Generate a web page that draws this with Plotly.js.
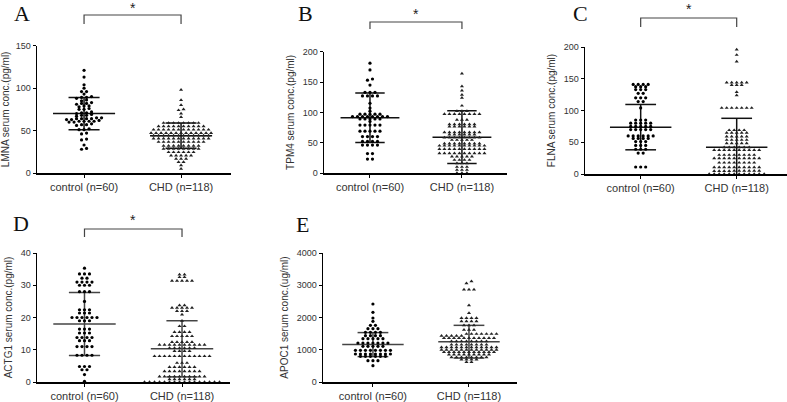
<!DOCTYPE html>
<html>
<head>
<meta charset="utf-8">
<script src="https://cdn.plot.ly/plotly-3.0.1.min.js"></script>
<style>html,body{margin:0;padding:0;background:#fff;}#chart{width:787px;height:402px;}</style>
</head>
<body>
<div id="chart"></div>
<script>
// ---------- DATA ----------
const categories = ['control (n=60)', 'CHD (n=118)'];
const panelLetters = ['A', 'B', 'C', 'D', 'E'];
const yTitles = ['LMNA serum conc.(pg/ml)', 'TPM4 serum conc.(pg/ml)', 'FLNA serum conc.(pg/ml)',
                 'ACTG1 serum conc.(pg/ml)', 'APOC1 serum conc.(ug/ml)'];

const lmnaControl = [121,113,104,100,96,96,93,89,89,90,88,85,86,82,82,83,81,79,79,78,75,75,76,71,71,72,70,68,68,67,69,
  64,64,65,64,63,64,65,63,61,61,62,60,61,60,61,57,57,56,58,51,51,52,47,46,39,40,33,28,29];
const lmnaCHD = [98,86,80,75,74,70,66,
  59,59,59,59,59,59,59,59,
  55,55,55,55,55,55,55,55,55,55,
  51,51,51,51,51,51,51,51,51,51,51,51,
  47,47,47,47,47,47,47,47,47,47,47,47,47,
  44,44,44,44,44,44,44,44,44,44,44,44,
  40.5,40.5,40.5,40.5,40.5,40.5,40.5,40.5,40.5,40.5,40.5,40.5,
  36.6,36.6,36.6,36.6,36.6,36.6,36.6,36.6,36.6,36.6,
  32,32,32,32,32,32,32,32,
  28.5,28.5,28.5,28.5,28.5,28.5,28.5,28.5,
  24.5,24.5,24.5,24.5,24.5,24.5,
  20.6,20.6,20.6,20.6,20.6,
  16.7,16.7,16.7,12.8,12.8,9,5];

const tpm4Control = [181,170,155,153,145,133,133,133,127,127,127,127,115,107,102,
  97,97,97,97,97,93,93,93,93,93,93,93,93,89,89,89,89,89,85,
  79,79,79,79,79,69,69,69,69,69,60,60,60,60,52,52,52,52,46,46,46,46,32,32,23,23];
const tpm4CHD = [164,143,136,129,124,111,102,102,102,
  97,97,97,97,97,97,97,97,87.6,87.6,87.6,
  80.4,80.4,80.4,80.4,80.4,80.4,76.5,76.5,76.5,76.5,76.5,76.5,
  67,67,67,67,67,67,67,67,63.5,63.5,63.5,63.5,63.5,63.5,
  58.5,58.5,58.5,58.5,58.5,58.5,58.5,58.5,54.5,54.5,54.5,54.5,54.5,
  48.5,48.5,48.5,48.5,48.5,48.5,48.5,48.5,45,45,45,45,45,45,45,45,45,45,
  39.5,39.5,39.5,39.5,39.5,39.5,39.5,39.5,39.5,39.5,
  32.6,32.6,32.6,32.6,32.6,32.6,32.6,32.6,32.6,32.6,
  27,27,27,27,27,21.5,21.5,21.5,21.5,16,16,16,10,10,10,5,5,5,0,0,0];

const flnaControl = [141,141,141,141,137.5,137.5,137.5,133,133,133,127,127,120,120,120,114,114,104,
  85,85,85,80,80,80,80,80,75,75,75,75,75,70,70,70,70,70,
  60,60,60,60,60,60,56,56,56,56,51,51,51,45,45,45,39,39,39,33,33,11,11,11];
const flnaCHD = [196,187.5,177,144,144,144,144,144,140,140,140,129,124,
  104,104,104,104,104,104,104,69,69,69,69,65,65,65,65,65,
  59,59,59,59,59,53.6,53.6,53.6,53.6,53.6,48.4,48.4,48.4,48.4,48.4,42,42,42,42,42,42,
  37.8,37.8,37.8,37.8,37.8,37.8,37.8,37.8,37.8,37.8,30,30,30,30,30,30,30,30,
  24.7,24.7,24.7,24.7,24.7,24.7,24.7,24.7,24.7,24.7,17.8,17.8,17.8,17.8,17.8,17.8,17.8,17.8,
  10.5,10.5,10.5,10.5,10.5,10.5,10.5,10.5,10.5,10.5,4.7,4.7,4.7,4.7,
  5,5,5,5,5,5,0,0,0,0,0,0,0,0,0,0,0,0];

const actg1Control = [35.3,33.5,33.5,33.5,32.2,32.2,31,31,31,31,30,30,30,28,28,28,25,
  22.4,22.4,22.4,21.4,21.4,21.4,20,20,20,20,20,20,19,19,19,16.4,16.4,16.4,15.2,15.2,15.2,
  13.8,13.8,13.8,13.8,12.8,12.8,12.8,11,11,11,11,8.3,8.3,8.3,8.3,4.8,4.8,4.8,3.8,3.8,2.3,0.2];
const actg1CHD = [33.3,33.3,32.5,32.5,31.4,31.4,31.4,31.4,31.4,23.8,23.8,23,23,23,23,23,22,22,22,20.9,19,
  17.3,17.3,15.5,15.5,15.5,15.5,14.2,14.2,14.2,14.2,14.2,12.4,12.4,12.4,12.4,12.4,
  11.5,11.5,11.5,11.5,11.5,11.5,11.5,11.5,11.5,11.5,10.5,10.5,10.5,10.5,10.5,10.5,9.6,9.6,9.6,9.6,
  8,8,8,8,8,8,8,8,8,8,8,8,5.9,5.9,5.9,4.6,4.6,4.6,4.6,4.6,4.6,
  3.3,3.3,3.3,3.3,3.3,3.3,3.3,3.3,1.7,1.7,1.7,1.7,1.7,1.7,1.7,1.7,1.7,1.7,
  0.8,0.8,0.8,0.8,0.8,0.8,0,0,0,0,0,0,0,0,0,0,0,0,0,0,0,0];

const apoc1Control = [2419,2160,1985,1880,1757,1757,1654,1654,1654,1540,1540,1540,1540,
  1437,1437,1437,1437,1343,1343,1343,1343,1343,1210,1210,1210,1210,1210,1210,1210,
  1106,1106,1106,1106,1106,982,982,982,982,982,982,982,982,868,868,868,868,868,868,868,868,
  796,796,796,796,796,796,660,660,660,506];
const apoc1CHD = [3120,3060,2864,2864,2864,2377,2140,1985,1985,1985,1985,1880,1880,1880,1880,
  1760,1760,1760,1620,1620,1620,1490,1490,1490,1490,1490,1490,1490,1430,1430,1430,1430,1430,
  1364,1364,1364,1364,1364,1364,1364,1364,1364,1364,1364,1260,1260,1260,1260,1260,1260,1260,1260,
  1157,1157,1157,1157,1157,1157,1157,1157,1075,1075,1075,1075,1075,1075,1075,1075,1075,1075,1075,1075,
  1000,1000,1000,1000,1000,1000,1000,1000,1000,1000,1000,1000,930,930,930,930,930,930,930,930,930,930,930,
  848,848,848,848,848,848,848,848,848,766,766,766,766,766,766,766,766,693,693,693,693,620,620];

const lmnaMean = [70, 44],     lmnaSD = [19, 14.8];
const tpm4Mean = [91, 59],     tpm4SD = [40.7, 43.5];
const flnaMean = [73.8, 42],   flnaSD = [35.7, 45.7];
const actg1Mean = [18, 10.3],  actg1SD = [9.75, 8.7];
const apoc1Mean = [1160, 1250], apoc1SD = [372, 507];

const yMax = [150, 200, 200, 40, 4000];
const yStep = [50, 50, 50, 10, 1000];
const significant = [true, true, true, true, false];

// ---------- LAYOUT GEOMETRY (pixels) ----------
const W = 787, H = 402;
const boxes = [ // left, right, top, bottom (plot area), x range
  {l: 37, r: 231, t: 45.7, b: 173, xr: [-0.485, 1.515], br: [15, 24], star: 8, let: [12, 14], lc: '#111'},
  {l: 324, r: 507, t: 51.7, b: 173, xr: [-0.5, 1.49], br: [22, 29], star: 14, let: [296, 14], lc: '#111'},
  {l: 585, r: 787, t: 47, b: 174, xr: [-0.58, 1.524], br: [18, 27], star: 8.5, let: [571, 13.5], lc: '#111'},
  {l: 37, r: 230, t: 253, b: 382, xr: [-0.487, 1.492], br: [229, 237], star: 220, let: [11, 223], lc: '#444'},
  {l: 323, r: 517, t: 253, b: 382, xr: [-0.52, 1.5], br: null, star: null, let: [294, 225], lc: '#444'}
];
const px = x => x / W, py = y => 1 - y / H;

const groups = [
  [lmnaControl, lmnaCHD, lmnaMean, lmnaSD],
  [tpm4Control, tpm4CHD, tpm4Mean, tpm4SD],
  [flnaControl, flnaCHD, flnaMean, flnaSD],
  [actg1Control, actg1CHD, actg1Mean, actg1SD],
  [apoc1Control, apoc1CHD, apoc1Mean, apoc1SD]
];

// Prism-like scatter rows: values closer than a row height share a row, spread horizontally
function swarm(values, cat, pxPerX, pxPerY) {
  const dX = 5.0, rowPx = 2.0;
  const sorted = values.slice().sort((a, b) => a - b);
  const rows = [];
  let cur = null;
  for (const v of sorted) {
    const yp = v * pxPerY;
    if (!cur || yp - cur.start >= rowPx) { cur = {start: yp, vals: []}; rows.push(cur); }
    cur.vals.push(v);
  }
  const xs = [], ys = [];
  rows.forEach(r => {
    const n = r.vals.length;
    r.vals.forEach((v, j) => {
      const off = (j - (n - 1) / 2) * dX;
      xs.push(cat + off / pxPerX);
      ys.push(v);
    });
  });
  return {x: xs, y: ys};
}

const traces = [];
const layout = {
  width: W, height: H, margin: {l: 0, r: 0, t: 0, b: 0},
  paper_bgcolor: '#fff', plot_bgcolor: '#fff', showlegend: false,
  font: {family: 'Liberation Sans, Arial, sans-serif', color: '#333'},
  shapes: [], annotations: []
};

boxes.forEach((b, i) => {
  const sfx = i === 0 ? '' : String(i + 1);
  const xa = 'x' + sfx, ya = 'y' + sfx;
  const pxPerX = (b.r - b.l) / (b.xr[1] - b.xr[0]);
  const pxPerY = (b.b - b.t) / yMax[i];
  const [ctrl, chd, mean, sd] = groups[i];

  const s0 = swarm(ctrl, 0, pxPerX, pxPerY);
  const s1 = swarm(chd, 1, pxPerX, pxPerY);

  // mean and SD lines
  const lx = [], ly = [];
  [0, 1].forEach(c => {
    const m = mean[c], s = sd[c];
    lx.push(c - 0.32, c + 0.32, null); ly.push(m, m, null);
    lx.push(c - 0.16, c + 0.16, null); ly.push(m + s, m + s, null);
    lx.push(c - 0.16, c + 0.16, null); ly.push(m - s, m - s, null);
    lx.push(c, c, null); ly.push(m - s, m + s, null);
  });
  traces.push({type: 'scatter', mode: 'lines', x: lx, y: ly, xaxis: xa, yaxis: ya,
    hoverinfo: 'skip', line: {color: b.lc, width: 1.5}});

  traces.push({type: 'scatter', mode: 'markers', x: s0.x, y: s0.y, xaxis: xa, yaxis: ya,
    name: categories[0], cliponaxis: false, hoverinfo: 'y',
    marker: {symbol: 'circle', size: 3.2, color: '#000'}});
  traces.push({type: 'scatter', mode: 'markers', x: s1.x, y: s1.y, xaxis: xa, yaxis: ya,
    name: categories[1], cliponaxis: false, hoverinfo: 'y',
    marker: {symbol: 'triangle-up', size: 3.6, color: '#222'}});

  layout['xaxis' + sfx] = {
    domain: [px(b.l), px(b.r)], range: b.xr, anchor: ya, fixedrange: true,
    tickvals: [0, 1], ticktext: categories, ticks: 'outside', ticklen: 3, tickwidth: 1,
    tickcolor: '#000', showline: true, linecolor: '#000', linewidth: 1.5,
    showgrid: false, zeroline: false,
    tickfont: {family: 'Liberation Sans, Arial, sans-serif', size: 11, color: '#333'}
  };
  layout['yaxis' + sfx] = {
    domain: [py(b.b), py(b.t)], range: [0, yMax[i]], anchor: xa, fixedrange: true,
    dtick: yStep[i], tick0: 0, ticks: 'outside', ticklen: 3, tickwidth: 1, tickcolor: '#000',
    showline: true, linecolor: '#000', linewidth: 1.5, showgrid: false, zeroline: false,
    tickfont: {family: 'Liberation Sans, Arial, sans-serif', size: 9, color: '#333'},
    title: {text: yTitles[i], standoff: 6,
      font: {family: 'Liberation Sans, Arial, sans-serif', size: 10, color: '#333'}}
  };

  // panel letter
  layout.annotations.push({text: panelLetters[i], xref: 'paper', yref: 'paper',
    x: px(b.let[0]), y: py(b.let[1]), xanchor: 'left', yanchor: 'middle', showarrow: false,
    font: {family: 'Liberation Serif, Times New Roman, serif', size: 22, color: '#111'}});

  // significance bracket
  if (significant[i]) {
    layout.shapes.push({type: 'path', xref: xa, yref: 'paper',
      path: `M 0 ${py(b.br[1])} L 0 ${py(b.br[0])} L 1 ${py(b.br[0])} L 1 ${py(b.br[1])}`,
      line: {color: '#444', width: 1.2}});
    layout.annotations.push({text: '*', xref: xa, yref: 'paper', x: 0.5, y: py(b.star),
      xanchor: 'center', yanchor: 'middle', showarrow: false,
      font: {family: 'Liberation Sans, Arial, sans-serif', size: 14, color: '#222'}});
  }
});

Plotly.newPlot('chart', traces, layout, {displayModeBar: false, staticPlot: true});
</script>
</body>
</html>
